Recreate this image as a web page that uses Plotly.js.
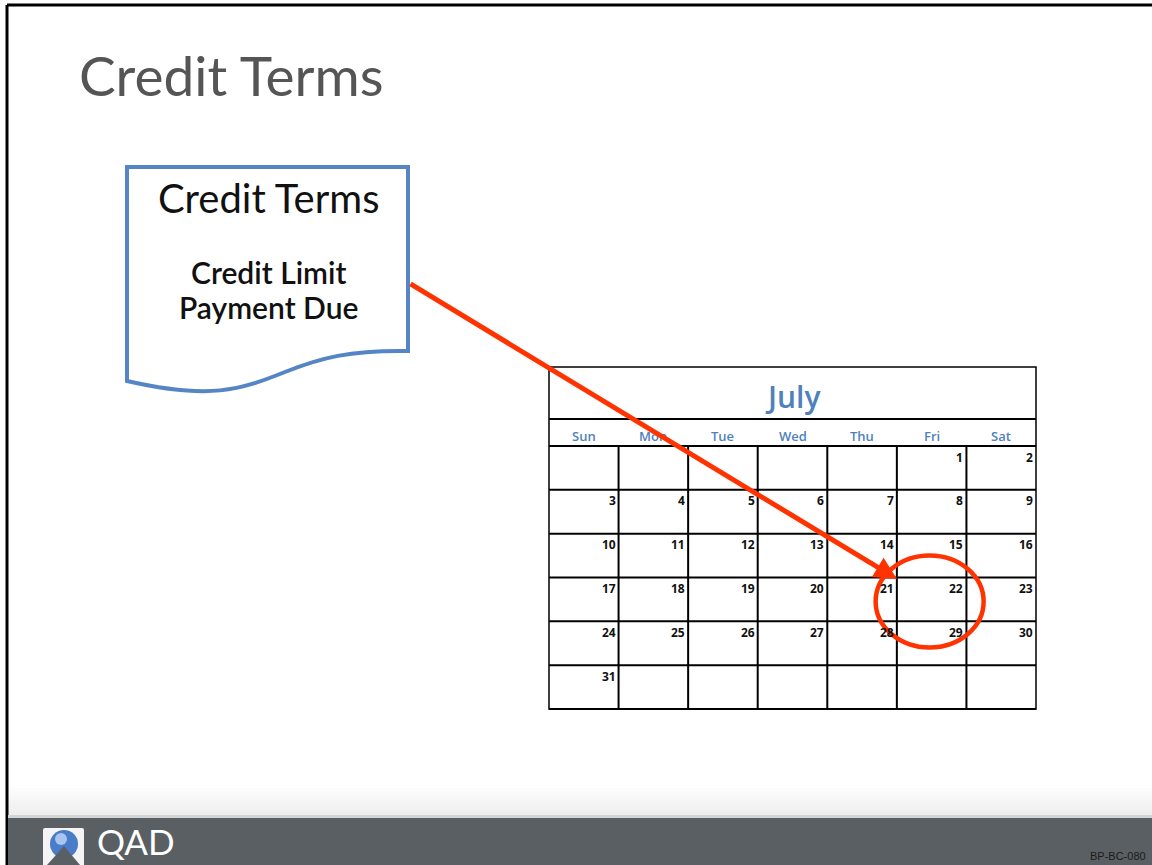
<!DOCTYPE html>
<html>
<head>
<meta charset="utf-8">
<script src="https://cdn.plot.ly/plotly-3.0.1.min.js"></script>
<style>html,body{margin:0;padding:0;background:#fff;}#chart{width:1152px;height:865px;}</style>
</head>
<body>
<div id="chart"></div>
<script>
// ---- content data ----
const slideTitle = "Credit Terms";
const docTitle = "Credit Terms";
const docLines = ["Credit Limit", "Payment Due"];
const monthName = "July";
const dayNames = ["Sun", "Mon", "Tue", "Wed", "Thu", "Fri", "Sat"];
const dayNumbers = [1,2,3,4,5,6,7,8,9,10,11,12,13,14,15,16,17,18,19,20,21,22,23,24,25,26,27,28,29,30,31];
const firstWeekday = 5;           // July 1 falls on Friday
const highlightDays = [22, 29];   // circled due dates
const footerLogo = "QAD";
const footerCode = "BP-BC-080";

// ---- layout geometry ----
const W = 1152, H = 865;
const calX0 = 549, calX1 = 1036;
const calTop = 367, calTitleBottom = 419, calHeaderBottom = 446;
const nRows = 6;
const calBottom = 709;
const colW = (calX1 - calX0) / 7;
const rowH = (calBottom - calHeaderBottom) / nRows;
const blue = "#4F81BD";
const red = "#FF3300";

const shapes = [];
const annotations = [];

// slide frame
shapes.push({type:"line", x0:7, x1:W, y0:5, y1:5, line:{color:"#000", width:3}});
shapes.push({type:"line", x0:7, x1:7, y0:5, y1:H, line:{color:"#000", width:3}});

// footer gradient band
const bandTop = 785, bandBottom = 815, steps = 10;
for (let i = 0; i < steps; i++) {
  const t = i / (steps - 1);
  const v = Math.round(254 - t * 16);
  const col = "rgb(" + v + "," + v + "," + v + ")";
  shapes.push({type:"rect", x0:8, x1:W, y0:bandTop + i*(bandBottom-bandTop)/steps, y1:bandTop + (i+1)*(bandBottom-bandTop)/steps + 0.5,
    fillcolor:col, line:{width:0}, layer:"below"});
}
shapes.push({type:"rect", x0:8, x1:W, y0:815, y1:818, fillcolor:"#d2d4d5", line:{width:0}});
shapes.push({type:"rect", x0:8, x1:W, y0:818, y1:H, fillcolor:"#5a5f63", line:{width:0}});

// QAD logo icon
shapes.push({type:"path", path:"M43,830 Q43,828 45,828 L82,828 Q84,828 84,830 L84,865 L43,865 Z", fillcolor:"#f4f4f4", line:{width:0}});
shapes.push({type:"circle", x0:50, x1:78, y0:830, y1:858, fillcolor:"#4a7cc9", line:{width:0}});
shapes.push({type:"circle", x0:55, x1:67, y0:833, y1:845, fillcolor:"#a9c4ee", line:{width:0}});
shapes.push({type:"path", path:"M47,865 L64,846 L80,865 Z", fillcolor:"#5a5f63", line:{width:0}});

// document shape
shapes.push({type:"path",
  path:"M127,167 L408,167 L408,351 C350,350 320,358 285,372 C240,390 210,400 127,381 Z",
  fillcolor:"#ffffff", line:{color:"#5585C5", width:4}});

// calendar grid
shapes.push({type:"rect", x0:calX0, x1:calX1, y0:calTop, y1:calBottom, fillcolor:"#fff", line:{color:"#000", width:1.5}});
shapes.push({type:"line", x0:calX0, x1:calX1, y0:calTitleBottom, y1:calTitleBottom, line:{color:"#000", width:2}});
for (let r = 0; r <= nRows; r++) {
  const y = calHeaderBottom + r * rowH;
  shapes.push({type:"line", x0:calX0, x1:calX1, y0:y, y1:y, line:{color:"#000", width:2}});
}
for (let c = 1; c < 7; c++) {
  const x = calX0 + c * colW;
  shapes.push({type:"line", x0:x, x1:x, y0:calHeaderBottom, y1:calBottom, line:{color:"#000", width:2}});
}

// highlight circle around the highlighted days' cells
(function(){
  const cells = highlightDays.map(d => {
    const idx = d - 1 + firstWeekday;
    return {c: idx % 7, r: Math.floor(idx / 7)};
  });
  const cMin = Math.min(...cells.map(o=>o.c)), rMin = Math.min(...cells.map(o=>o.r));
  const cx = calX0 + (cMin + 0.5) * colW - 2;
  const cy = calHeaderBottom + rMin * rowH + 24;
  shapes.push({type:"circle", x0:cx-54, x1:cx+54, y0:cy-46, y1:cy+46, line:{color:red, width:4.5}});
})();

// texts
annotations.push({x:77, y:75, xref:"x", yref:"y", text:slideTitle, showarrow:false, xanchor:"left", yanchor:"middle",
  font:{family:"Lato, 'DejaVu Sans', sans-serif", size:55, color:"#555555"}});
annotations.push({x:268, y:198, xref:"x", yref:"y", text:docTitle, showarrow:false, xanchor:"center", yanchor:"middle",
  font:{family:"Lato, sans-serif", size:40, color:"#111111"}});
docLines.forEach((t, i) => {
  annotations.push({x:268, y:272 + i*35, xref:"x", yref:"y", text:t, showarrow:false, xanchor:"center", yanchor:"middle",
    font:{family:"Lato, sans-serif", size:30, color:"#111111", weight:600}});
});
annotations.push({x:(calX0+calX1)/2, y:(calTop+calTitleBottom)/2 + 3, xref:"x", yref:"y", text:monthName, showarrow:false,
  xanchor:"center", yanchor:"middle", font:{family:"'Open Sans', sans-serif", size:30, color:blue, weight:600}});
dayNames.forEach((d, i) => {
  annotations.push({x:calX0 + (i+0.5)*colW, y:(calTitleBottom+calHeaderBottom)/2 + 3, xref:"x", yref:"y", text:d, showarrow:false,
    xanchor:"center", yanchor:"middle", font:{family:"'Open Sans', sans-serif", size:13, color:blue, weight:600}});
});
dayNumbers.forEach(d => {
  const idx = d - 1 + firstWeekday;
  const c = idx % 7, r = Math.floor(idx / 7);
  annotations.push({x:calX0 + (c+1)*colW - 1, y:calHeaderBottom + r*rowH + 11, xref:"x", yref:"y", text:String(d), showarrow:false,
    xanchor:"right", yanchor:"middle", font:{family:"'Open Sans', sans-serif", size:12, color:"#111", weight:"bold"}});
});

// arrow from document to due date
annotations.push({x:897, y:579, ax:409, ay:283, xref:"x", yref:"y", axref:"x", ayref:"y", text:"", showarrow:true,
  arrowhead:2, arrowsize:0.9, arrowwidth:5, arrowcolor:red, standoff:0});

// footer texts
annotations.push({x:96, y:841, xref:"x", yref:"y", text:footerLogo, showarrow:false, xanchor:"left", yanchor:"middle",
  borderpad:0, font:{family:"Lato, sans-serif", size:35, color:"#ffffff"}});
annotations.push({x:1148, y:856, xref:"x", yref:"y", text:footerCode, showarrow:false, xanchor:"right", yanchor:"middle",
  font:{family:"'Liberation Sans', Arial, sans-serif", size:11, color:"#1a1a1a"}});

const layout = {
  width:W, height:H,
  margin:{l:0, r:0, t:0, b:0},
  paper_bgcolor:"#ffffff", plot_bgcolor:"#ffffff",
  showlegend:false,
  xaxis:{range:[0, W], visible:false, fixedrange:true},
  yaxis:{range:[H, 0], visible:false, fixedrange:true},
  shapes:shapes,
  annotations:annotations
};

Plotly.newPlot("chart", [{x:[], y:[], type:"scatter", mode:"markers"}], layout, {displayModeBar:false, staticPlot:true});
</script>
</body>
</html>
